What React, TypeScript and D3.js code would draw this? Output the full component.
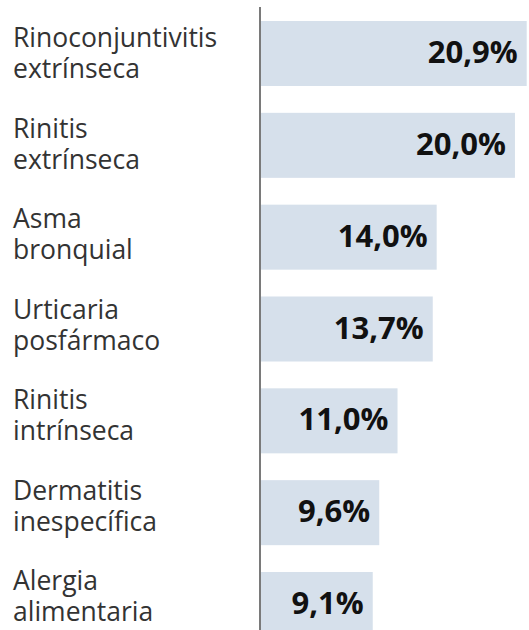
import * as d3 from 'd3'
import { FC, useEffect, useRef } from 'react'

const categories = [
  ['Rinoconjuntivitis', 'extrínseca'],
  ['Rinitis', 'extrínseca'],
  ['Asma', 'bronquial'],
  ['Urticaria', 'posfármaco'],
  ['Rinitis', 'intrínseca'],
  ['Dermatitis', 'inespecífica'],
  ['Alergia', 'alimentaria'],
]
const values = [20.9, 20.0, 14.0, 13.7, 11.0, 9.6, 9.1]
const valueLabels = ['20,9%', '20,0%', '14,0%', '13,7%', '11,0%', '9,6%', '9,1%']

const App: FC = () => {
  const ref = useRef<HTMLDivElement>(null)
  useEffect(() => {
    document.body.style.margin = '0'
    drawBars()
  }, [])
  const drawBars = () => {
    const width = 529
    const height = 630
    const root = d3.select(ref.current)
    root.selectAll('*').remove()
    const svg = root.append('svg').attr('width', width).attr('height', height)
      .style('display', 'block').style('font-family', '"Open Sans", sans-serif')
    const axisX = 260
    const xScale = d3.scaleLinear().domain([0, 21]).range([254, 528])
    const yScale = d3.scaleBand<number>().domain(d3.range(values.length))
      .range([21, 637]).paddingInner(0.292).paddingOuter(0)
    // the category labels sit on a slightly tighter grid than the bars
    const labelY = d3.scalePoint<number>().domain(d3.range(categories.length)).range([47, 590])
    // bars
    svg.selectAll('.bar').data(values).enter().append('rect').attr('class', 'bar')
      .attr('x', axisX + 1)
      .attr('y', (d, i) => yScale(i) as number)
      .attr('width', d => xScale(d) - axisX - 1)
      .attr('height', yScale.bandwidth())
      .attr('fill', '#d6e0eb')
    // axis line
    svg.append('line').attr('x1', axisX).attr('x2', axisX).attr('y1', 7).attr('y2', height)
      .attr('stroke', '#7a7a7a').attr('stroke-width', 2)
    // value labels
    svg.selectAll('.val').data(values).enter().append('text').attr('class', 'val')
      .attr('x', d => xScale(d) - 9)
      .attr('y', (d, i) => (yScale(i) as number) + yScale.bandwidth() / 2 + 9.5)
      .attr('text-anchor', 'end').attr('font-size', 31).attr('font-weight', 700)
      .attr('fill', '#111')
      .text((d, i) => valueLabels[i])
    // category labels, two lines
    const cat = svg.selectAll('.cat').data(categories).enter().append('text').attr('class', 'cat')
      .attr('font-size', 26.5).attr('fill', '#333')
    cat.append('tspan').attr('x', 13)
      .attr('y', (d, i) => labelY(i) as number)
      .text(d => d[0])
    cat.append('tspan').attr('x', 13)
      .attr('y', (d, i) => (labelY(i) as number) + 31)
      .text(d => d[1])
  }
  return <div ref={ref} />
}
export default App
